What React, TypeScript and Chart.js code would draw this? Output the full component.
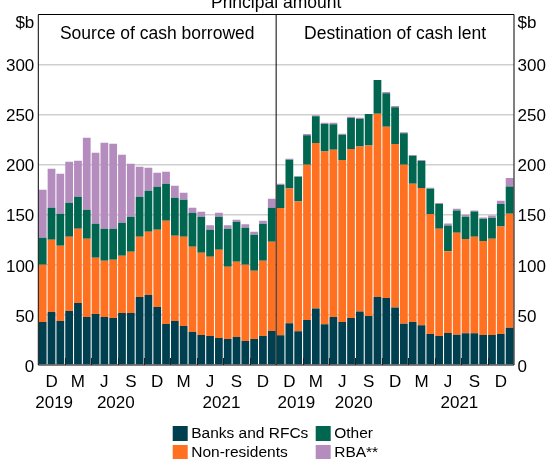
import React, { useEffect, useRef } from 'react';
import { Chart, registerables } from 'chart.js';

Chart.register(...registerables);

// Monthly categories, Oct 2019 – Dec 2021
const months: string[] = [
  '2019-10', '2019-11', '2019-12',
  '2020-01', '2020-02', '2020-03', '2020-04', '2020-05', '2020-06',
  '2020-07', '2020-08', '2020-09', '2020-10', '2020-11', '2020-12',
  '2021-01', '2021-02', '2021-03', '2021-04', '2021-05', '2021-06',
  '2021-07', '2021-08', '2021-09', '2021-10', '2021-11', '2021-12',
];
const quarterLetters: string[] = ['D', 'M', 'J', 'S', 'D', 'M', 'J', 'S', 'D'];
const yearLabels: string[] = ['2019', '2020', '2021'];
const yearPositionsLeft: number[] = [1.3, 8.3, 20.3];
const yearPositionsRight: number[] = [1.8, 8.3, 20.3];
const panelTitles: string[] = ['Source of cash borrowed', 'Destination of cash lent'];
const chartTitle = 'Principal amount';
const unitLabel = '$b';
const yTicks: number[] = [0, 50, 100, 150, 200, 250, 300, 350];

// Source of cash borrowed ($b)
const srcBanks: number[] = [43, 53, 44, 54, 62, 48, 51, 48, 47, 52, 52, 68, 70, 58, 41, 44, 39, 33, 30, 29, 27, 26, 28, 24, 26, 29, 34];
const srcNonRes: number[] = [57, 72, 75, 74, 74, 78, 56, 56, 58, 57, 61, 60, 63, 77, 103, 85, 89, 85, 82, 79, 88, 72, 75, 76, 68, 75, 89];
const srcOther: number[] = [27, 32, 32, 34, 32, 29, 34, 32, 31, 33, 35, 40, 41, 43, 37, 38, 37, 34, 36, 27, 33, 38, 40, 37, 36, 37, 34];
const srcRba: number[] = [48, 39, 40, 41, 36, 72, 71, 86, 85, 68, 53, 30, 23, 14, 12, 12, 7, 5, 5, 4.5, 4, 3.5, 2, 3.5, 3, 3, 9];

// Destination of cash lent ($b)
const dstBanks: number[] = [29.7, 41.7, 33.7, 45, 56.3, 40.7, 48, 43, 47, 53.3, 49, 68, 67, 57.3, 41.3, 43, 39.7, 31, 29, 32, 30.3, 31.7, 31.7, 30, 30, 31, 37.3];
const dstNonRes: number[] = [127, 134.6, 129.6, 155, 165.4, 172.6, 167, 161.7, 168.7, 165, 170.3, 183, 171, 163.4, 158.7, 138, 137, 119.7, 107, 81.7, 101.7, 94, 96.3, 93.7, 96, 107.3, 113.7];
const dstOther: number[] = [23, 28.7, 25, 29.3, 26.6, 27.4, 25.3, 25.3, 31, 27.4, 31.4, 33.7, 33.3, 36.6, 31.3, 28, 27, 25.3, 24.7, 25.6, 22.3, 22.3, 25.3, 22.3, 21, 22.4, 27.3];
const dstRba: number[] = [1.3, 1, 0, 1.4, 1, 1.3, 1.7, 1, 1.3, 1.3, 0, 0, 1.4, 1.4, 1, 0.7, 1, 1, 1, 2, 1.7, 2, 1, 1.3, 2.3, 3.3, 8.4];

const seriesNames: string[] = ['Banks and RFCs', 'Non-residents', 'Other', 'RBA**'];
const seriesColors: string[] = ['#003F4F', '#FF7020', '#00664F', '#B48DBE'];
// legend layout: [column, row] for each series
const legendSlots: number[][] = [[0, 0], [0, 1], [1, 0], [1, 1]];

const FONT = '"Liberation Sans", Arial, Helvetica, sans-serif';

export default function App() {
  const ref = useRef<HTMLCanvasElement | null>(null);

  useEffect(() => {
    document.body.style.margin = '0';
    const canvas = ref.current;
    if (!canvas) return;
    const n = months.length;
    const labels = [...months, ...months];
    const tickLabels = months.map((_, i) => (i % 3 === 1 ? quarterLetters[(i - 1) / 3] : ''));
    const seriesData = [
      [...srcBanks, ...dstBanks],
      [...srcNonRes, ...dstNonRes],
      [...srcOther, ...dstOther],
      [...srcRba, ...dstRba],
    ];

    const overlay = {
      id: 'overlay',
      afterDraw(chart: any) {
        const { ctx, chartArea: ca } = chart;
        const xs = chart.scales.x;
        const edge = (i: number) => {
          if (i <= 0) return ca.left;
          if (i >= 2 * n) return ca.right;
          return (xs.getPixelForValue(i - 1) + xs.getPixelForValue(i)) / 2;
        };
        ctx.save();
        // frame
        ctx.strokeStyle = '#000';
        ctx.lineWidth = 1;
        ctx.beginPath();
        ctx.moveTo(ca.left, ca.top);
        ctx.lineTo(ca.right, ca.top);
        ctx.moveTo(ca.left, ca.top);
        ctx.lineTo(ca.left, ca.bottom);
        ctx.moveTo(ca.right, ca.top);
        ctx.lineTo(ca.right, ca.bottom);
        const mid = edge(n);
        ctx.moveTo(mid, ca.top);
        ctx.lineTo(mid, ca.bottom);
        ctx.moveTo(ca.left, ca.bottom);
        ctx.lineTo(ca.right, ca.bottom);
        ctx.stroke();
        // quarter tick marks
        ctx.strokeStyle = '#222';
        ctx.beginPath();
        for (let p = 0; p < 2; p++) {
          for (let k = 3; k < n; k += 3) {
            const x = Math.round(edge(p * n + k)) + 0.5;
            ctx.moveTo(x, ca.bottom);
            ctx.lineTo(x, ca.bottom - 7);
          }
        }
        ctx.stroke();
        // titles
        ctx.fillStyle = '#000';
        ctx.textBaseline = 'alphabetic';
        ctx.textAlign = 'center';
        ctx.font = `17.5px ${FONT}`;
        ctx.fillText(chartTitle, (ca.left + ca.right) / 2, 7.5);
        for (let p = 0; p < 2; p++) {
          const cx = (edge(p * n) + edge(p * n + n)) / 2;
          ctx.fillText(panelTitles[p], cx, 39);
        }
        // unit labels
        ctx.font = `17px ${FONT}`;
        ctx.textAlign = 'right';
        ctx.fillText(unitLabel, ca.left - 4, 27.5);
        ctx.textAlign = 'left';
        ctx.fillText(unitLabel, ca.right + 3.5, 27.5);
        // year labels
        ctx.textAlign = 'center';
        ctx.textBaseline = 'middle';
        for (let k = 0; k < yearLabels.length; k++) {
          ctx.fillText(yearLabels[k], xs.getPixelForValue(yearPositionsLeft[k]), 403.5);
          ctx.fillText(yearLabels[k], xs.getPixelForValue(n + yearPositionsRight[k]), 403.5);
        }
        // legend
        const colX = [172.7, 315.7];
        const rowY = [426, 445];
        ctx.font = `15.5px ${FONT}`;
        ctx.textAlign = 'left';
        chart.data.datasets.forEach((ds: any, i: number) => {
          const [c, r] = legendSlots[i];
          ctx.fillStyle = ds.backgroundColor;
          ctx.fillRect(colX[c], rowY[r], 15, 15);
          ctx.fillStyle = '#000';
          ctx.fillText(ds.label, colX[c] + 18.5, rowY[r] + 8);
        });
        ctx.restore();
      },
    };

    const yTickCb = (v: any) => (v === 350 ? '' : String(v));

    const chart = new Chart(canvas, {
      type: 'bar',
      data: {
        labels,
        datasets: seriesNames.map((name, i) => ({
          label: name,
          data: seriesData[i],
          backgroundColor: seriesColors[i],
          borderWidth: 0,
          barPercentage: 0.88,
          categoryPercentage: 1,
          stack: 's',
          yAxisID: 'y',
        })),
      },
      options: {
        responsive: false,
        devicePixelRatio: 1,
        animation: false,
        layout: { padding: { top: 14.5, left: 0, right: 0, bottom: 0 } },
        plugins: {
          legend: { display: false },
          tooltip: { enabled: false },
          title: { display: false },
        },
        scales: {
          x: {
            stacked: true,
            offset: true,
            grid: { display: false, drawTicks: false },
            border: { display: false },
            ticks: {
              autoSkip: false,
              maxRotation: 0,
              minRotation: 0,
              padding: 7,
              color: '#000',
              font: { family: FONT, size: 17 },
              callback: (_v: any, index: number) => tickLabels[index % n],
            },
            afterFit: (s: any) => {
              s.height = 94;
            },
          },
          y: {
            stacked: true,
            min: 0,
            max: 350,
            position: 'left',
            afterBuildTicks: (s: any) => {
              s.ticks = yTicks.map((v) => ({ value: v }));
            },
            grid: {
              drawTicks: false,
              lineWidth: 1.5,
              color: (c: any) => (c.tick && (c.tick.value === 0 || c.tick.value === 350) ? 'rgba(0,0,0,0)' : '#cfcfcf'),
            },
            border: { display: false },
            ticks: {
              padding: 4,
              labelOffset: 2,
              color: '#000',
              font: { family: FONT, size: 17 },
              callback: yTickCb,
            },
            afterFit: (s: any) => {
              s.width = 38.3;
            },
          },
          y2: {
            type: 'linear',
            min: 0,
            max: 350,
            position: 'right',
            afterBuildTicks: (s: any) => {
              s.ticks = yTicks.map((v) => ({ value: v }));
            },
            grid: { display: false, drawTicks: false },
            border: { display: false },
            ticks: {
              padding: 3.5,
              labelOffset: 2,
              color: '#000',
              font: { family: FONT, size: 17 },
              callback: yTickCb,
            },
            afterFit: (s: any) => {
              s.width = 33;
            },
          },
        },
      },
      plugins: [overlay],
    });
    return () => chart.destroy();
  }, []);

  return (
    <div style={{ width: 547, height: 459 }}>
      <canvas ref={ref} width={547} height={459} style={{ display: 'block' }} />
    </div>
  );
}
